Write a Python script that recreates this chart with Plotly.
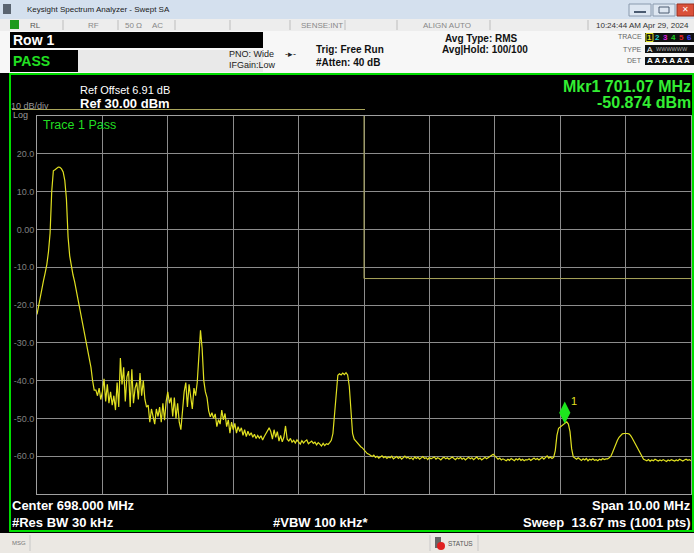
import numpy as np
import plotly.graph_objects as go

# ---------------- data ----------------
start_mhz = 693.0
stop_mhz = 703.0

trace_dbm = [
    # main carrier
    -22.5, -20.0, -18.5, -15.0, -13.5, -11.5, -9.3, -6.0, -1.0, 10.0,
    15.5, 15.8, 16.2, 16.5, 16.4, 16.0, 15.2, 13.0, 8.0, -2.0,
    -7.0, -10.0, -12.0, -13.8, -16.0, -18.5, -20.5, -22.5, -24.5, -27.0,
    -29.0, -31.5, -34.0, -36.5, -40.0, -42.5,
    # noisy shoulder
    -42.5, -44.0, -42.0, -45.0, -43.0, -39.5, -45.5, -41.0, -46.0, -43.0,
    -46.5, -44.0, -47.8, -40.5, -47.0, -34.0, -41.0, -36.5, -45.5, -39.0,
    -37.5, -47.0, -37.0, -46.0, -42.0, -40.5, -45.0, -38.0, -44.0, -40.0,
    -45.0, -47.0, -46.5, -51.0, -47.5, -50.0, -51.5, -47.5, -49.5, -47.0,
    -51.0, -46.0, -50.5, -45.5, -43.0, -46.0, -44.5, -49.5, -44.5, -50.0,
    -46.0, -51.0, -53.0, -48.0, -43.0, -40.5, -47.0, -41.0, -45.0, -47.5,
    -42.0, -44.0, -40.5, -33.0,
    # spur and decay
    -26.7, -31.5, -40.0, -43.0, -44.5, -48.0, -49.6, -48.5, -50.0, -48.8,
    -52.2, -50.3, -51.5, -47.8, -50.4, -48.7, -52.2, -50.4, -53.9, -51.0,
    -53.0, -51.3, -53.9, -52.2, -53.5, -52.5, -54.5, -53.0, -54.8, -53.4,
    -54.5, -53.8, -55.0, -54.2, -55.3, -54.5, -55.2, -54.6, -55.7, -54.8,
    -54.0, -53.0,
    -52.5, -53.5, -55.5, -53.0, -55.0, -53.5, -56.0, -54.5, -56.2, -55.0,
    -52.0, -55.5, -56.0, -55.3, -56.3, -55.8, -56.5, -55.7, -56.4, -56.8,
    -55.9, -56.5, -56.0, -55.7, -56.7, -56.4, -56.0, -56.6, -56.3, -57.0,
    -56.4, -56.8, -57.3, -56.6, -57.2, -56.7, -56.9, -56.4, -55.8, -54.0,
    # second carrier
    -49.0, -42.0, -38.6, -38.2, -38.5, -38.0, -38.4, -37.9, -38.5, -41.5,
    -49.0, -54.0, -55.5, -56.0, -56.8, -57.0, -57.5, -57.8, -58.3, -58.9,
    -59.3, -59.5,
    # noise floor
    -59.8, -60.1, -59.7, -60.3, -60.0, -60.5, -60.2, -59.9, -60.4, -60.1, -60.6, -60.2,
    -60.4, -60.0, -60.7, -60.3, -60.1, -60.6, -60.2, -60.8, -60.4, -60.0, -60.5, -60.3,
    -60.7, -60.4, -60.9, -60.2, -60.6, -60.3, -60.8, -60.5, -60.1, -60.6, -60.4, -60.9,
    -60.3, -60.7, -60.5, -60.2, -60.8, -60.4, -60.6, -61.0, -60.5, -60.3, -60.7, -60.4,
    -60.8, -60.5, -60.2, -60.6, -60.9, -60.4, -60.7, -60.3, -60.8, -60.5, -61.0, -60.6,
    -60.3, -60.7, -60.4, -60.9, -60.6, -60.2, -60.8, -60.5, -61.0, -60.6, -60.3, -60.7,
    -60.4, -60.1, -59.8, -59.5, -59.9, -60.4, -60.8, -60.5, -61.0, -60.7, -60.9, -61.2,
    -60.8, -61.1, -60.6, -60.9, -61.2, -60.7, -61.0, -60.6, -61.1, -60.8, -61.2, -60.9,
    -61.0, -60.7, -61.1, -60.8, -60.5, -60.9, -60.6, -61.0, -60.7, -60.3, -60.8, -60.4,
    -59.9, -60.5, -60.2, -60.6,
    # marker carrier
    -60.3, -58.5, -54.5, -52.6, -52.3, -51.8, -51.6, -51.2, -50.9, -51.5, -53.5, -58.0, -60.2,
    # floor
    -60.5, -60.8, -60.4, -60.9, -61.1, -60.7, -61.0, -60.6, -61.2, -60.8,
    -61.0, -60.7, -61.1, -60.9, -61.2, -60.8, -61.0, -60.6, -60.9, -60.7,
    # last carrier
    -60.7, -60.4, -60.0, -59.0, -57.8, -56.6, -55.8, -55.0, -54.4, -54.1,
    -54.0, -53.9, -54.0, -54.1, -54.5, -55.2, -56.0, -56.8, -57.6, -58.3,
    -59.3, -60.2, -60.8,
    # floor
    -61.0, -61.2, -60.9, -61.3, -61.0, -61.2, -60.8, -61.1, -61.3, -61.0,
    -61.2, -60.9, -61.1, -61.4, -61.0, -61.2, -60.9, -61.1, -61.3, -61.0,
    -61.2, -60.8, -61.1, -61.3, -61.0, -60.8, -61.1, -60.9, -61.2,
]
freq_mhz = np.linspace(start_mhz, stop_mhz, len(trace_dbm))

limit_freq = [693.0, 698.0, 698.0, 703.0]
limit_dbm = [31.9, 31.9, -13.0, -13.0]

mkr_freq = 701.07
mkr_dbm = -50.874

y_tickvals = [30, 20, 10, 0, -10, -20, -30, -40, -50, -60, -70]
y_ticktext = ["", "20.0", "10.0", "0.00", "-10.0", "-20.0", "-30.0", "-40.0", "-50.0", "-60.0", ""]
x_tickvals = [693, 694, 695, 696, 697, 698, 699, 700, 701, 702, 703]

# ---------------- layout helpers ----------------
W, H = 694, 553
L, R, T, B = 37, 3, 116, 59
PW, PH = W - L - R, H - T - B
FONT = "Liberation Sans"


def X(px):
    return (px - L) / PW


def Y(py):
    return (H - B - py) / PH


shapes = []
annotations = []


def rect(x0, y0, x1, y1, fill, line=None, lw=0):
    shapes.append(dict(type="rect", xref="paper", yref="paper",
                       x0=X(x0), x1=X(x1), y0=Y(y0), y1=Y(y1),
                       fillcolor=fill, line=dict(color=line or fill, width=lw),
                       layer="above"))


def hline(x0, x1, y, color, w=1):
    shapes.append(dict(type="line", xref="paper", yref="paper",
                       x0=X(x0), x1=X(x1), y0=Y(y), y1=Y(y),
                       line=dict(color=color, width=w), layer="above"))


def vline(x, y0, y1, color, w=1):
    shapes.append(dict(type="line", xref="paper", yref="paper",
                       x0=X(x), x1=X(x), y0=Y(y0), y1=Y(y1),
                       line=dict(color=color, width=w), layer="above"))


def text(t, px, py, size, color, anchor="left", bold=False, family=FONT):
    if bold:
        t = "<b>" + t + "</b>"
    annotations.append(dict(text=t, x=X(px), y=Y(py), xref="paper", yref="paper",
                            xanchor=anchor, yanchor="middle", showarrow=False,
                            font=dict(family=family, size=size, color=color),
                            borderpad=0))


# title bar
rect(0, 0, 694, 19, "#d4e0ee")
rect(3, 4, 11, 14, "#5a6470")
text("Keysight Spectrum Analyzer - Swept SA", 26, 10, 8, "#1a1a1a")
rect(629, 4, 651, 16, "#dde6f1", "#8a9aae", 1)
rect(653, 4, 675, 16, "#dde6f1", "#8a9aae", 1)
rect(677, 4, 694, 16, "#d9503a", "#9a3020", 1)
hline(634, 646, 12, "#4a5a70", 2)
rect(659, 7, 669, 13, "#dde6f1", "#4a5a70", 1)
text("✕", 685, 10, 8, "#ffffff", "center")

# status row
rect(0, 19, 694, 31, "#ededed")
rect(10, 20, 19, 29, "#1f9a1f")
for sx in [63, 118, 175, 230, 290, 345, 397, 490, 588]:
    vline(sx, 20, 30, "#bdbdbd")
text("RL", 29, 25, 8, "#555555")
text("RF", 87, 25, 8, "#888888")
text("50 Ω", 124, 25, 8, "#888888")
text("AC", 151, 25, 8, "#888888")
text("SENSE:INT", 300, 25, 8, "#888888")
text("ALIGN AUTO", 422, 25, 8, "#888888")
text("10:24:44 AM Apr 29, 2024", 690, 25, 8, "#333333", "right")

# header
rect(0, 31, 694, 73, "#f7f7f7")
rect(10, 32, 263, 48, "#000000")
text("Row 1", 12, 40, 14, "#ffffff", bold=True)
rect(10, 50, 78, 72, "#000000")
rect(78, 50, 263, 72, "#e9e9e9")
text("PASS", 12, 61, 14, "#22e022", bold=True)
text("PNO: Wide", 228, 54, 9, "#222222")
text("IFGain:Low", 228, 65, 9, "#222222")
text("-▸-", 284, 54, 9, "#222222")
text("Trig: Free Run", 315, 49, 10, "#111111", bold=True)
text("#Atten: 40 dB", 315, 62, 10, "#111111", bold=True)
text("Avg Type: RMS", 444, 38, 10, "#111111", bold=True)
text("Avg|Hold: 100/100", 441, 50, 10, "#111111", bold=True)
text("TRACE", 643, 37, 7, "#666666", "right")
text("TYPE", 643, 49, 7, "#666666", "right")
text("DET", 643, 61, 7, "#666666", "right")
rect(645, 33, 694, 42, "#111111")
rect(645, 45, 694, 53, "#111111")
rect(645, 57, 694, 65, "#111111")
rect(646, 33.5, 653, 41.5, "#111111", "#e0e020", 1)
for i, c in enumerate(["#e0e020", "#20d0d0", "#e020e0", "#20d020", "#e02020", "#4040ff"]):
    text(str(i + 1), 649.5 + 8 * i, 37.5, 8, c, "center", bold=True)
text("A", 646, 49, 8, "#ffffff")
text("WWWWWW", 655, 49, 5.5, "#aaaaaa")
text("A A A A A A", 646, 61, 8, "#ffffff", bold=True)

# bottom status bar
rect(0, 533, 694, 553, "#ebe8e3")
vline(30, 535, 551, "#c8c8c8")
vline(430, 535, 551, "#c8c8c8")
vline(478, 535, 551, "#c8c8c8")
text("MSG", 11, 543, 6, "#777777")
rect(435, 537, 441, 548, "#666666")
shapes.append(dict(type="circle", xref="paper", yref="paper",
                   x0=X(437), x1=X(445), y0=Y(550), y1=Y(542),
                   fillcolor="#e02020", line=dict(color="#e02020", width=0), layer="above"))
text("STATUS", 447, 543, 6.5, "#555555")

# measurement frame
shapes.append(dict(type="rect", xref="paper", yref="paper",
                   x0=X(10), x1=X(693), y0=Y(531), y1=Y(74),
                   line=dict(color="#00dd00", width=2), fillcolor="rgba(0,0,0,0)",
                   layer="above"))
# upper limit segment above the graticule (clipped out of the plot area)
hline(12, 365, 109.5, "#a9a55a", 1)

text("Ref Offset 6.91 dB", 79, 90, 11, "#ffffff")
text("Ref 30.00 dBm", 79, 104, 13, "#ffffff", bold=True)
text("10 dB/div", 10, 106, 9, "#9a9a9a")
text("Log", 12, 115, 9, "#9a9a9a")
text("Mkr1 701.07 MHz", 692, 86, 16, "#33ee33", "right", bold=True)
text("-50.874 dBm", 692, 102, 16, "#33ee33", "right", bold=True)
text("Trace 1 Pass", 42, 125, 12.5, "#22dd22")
text("Center 698.000 MHz", 11, 505, 13, "#ffffff", bold=True)
text("#Res BW 30 kHz", 11, 522, 13, "#ffffff", bold=True)
text("#VBW 100 kHz*", 272, 522, 13, "#ffffff", bold=True)
text("Span 10.00 MHz", 692, 505, 13, "#ffffff", "right", bold=True)
text("Sweep  13.67 ms (1001 pts)", 692, 522, 13, "#ffffff", "right", bold=True)

# marker label
annotations.append(dict(text="1", x=mkr_freq, y=mkr_dbm, xref="x", yref="y",
                        xshift=9, yshift=21, showarrow=False,
                        font=dict(family=FONT, size=11, color="#e0e020")))

# ---------------- figure ----------------
fig = go.Figure()
fig.add_trace(go.Scatter(x=limit_freq, y=limit_dbm, mode="lines",
                         line=dict(color="#a9a55a", width=1), hoverinfo="skip",
                         showlegend=False))
fig.add_trace(go.Scatter(x=freq_mhz, y=trace_dbm, mode="lines",
                         line=dict(color="#e0e020", width=1.2), showlegend=False))
fig.add_trace(go.Scatter(x=[mkr_freq], y=[mkr_dbm + 2.4], mode="markers",
                         marker=dict(symbol="diamond-tall", size=16, color="#1ee61e",
                                     line=dict(width=0)),
                         showlegend=False, cliponaxis=False))

fig.update_layout(
    width=W, height=H,
    margin=dict(l=L, r=R, t=T, b=B, pad=0),
    paper_bgcolor="#000000",
    plot_bgcolor="#000000",
    font=dict(family=FONT),
    shapes=shapes,
    annotations=annotations,
    xaxis=dict(range=[start_mhz, stop_mhz], tickvals=x_tickvals, showticklabels=False,
               showgrid=True, gridcolor="#8c8c8c", gridwidth=1, zeroline=False,
               showline=True, linecolor="#a0a0a0", linewidth=1, mirror=True, ticks=""),
    yaxis=dict(range=[-70, 30], tickvals=y_tickvals, ticktext=y_ticktext,
               showgrid=True, gridcolor="#8c8c8c", gridwidth=1, zeroline=False,
               showline=True, linecolor="#a0a0a0", linewidth=1, mirror=True, ticks="",
               tickfont=dict(family=FONT, size=9, color="#808080")),
)

fig.write_html("out.html", config={"displayModeBar": False},
               post_script="document.body.style.margin='0px';document.body.style.overflow='hidden';")
